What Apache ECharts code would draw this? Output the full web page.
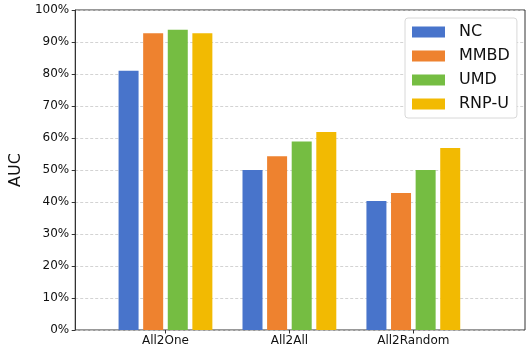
<!DOCTYPE html>
<html>
<head>
<meta charset="utf-8">
<script src="https://cdn.jsdelivr.net/npm/echarts@6/dist/echarts.min.js"></script>
<style>
  html, body { margin: 0; padding: 0; background: #fff; }
  #chart { width: 531px; height: 354px; }
</style>
</head>
<body>
<div id="chart"></div>
<script>
const categories = ['All2One', 'All2All', 'All2Random']
const seriesNames = ['NC', 'MMBD', 'UMD', 'RNP-U']
const ncValues = [81, 50, 40.3]
const mmbdValues = [92.7, 54.3, 42.8]
const umdValues = [93.8, 58.9, 50]
const rnpuValues = [92.7, 61.9, 56.9]
const yTicks = [0, 10, 20, 30, 40, 50, 60, 70, 80, 90, 100]

const colors = ['#4874CB', '#EE822F', '#75BD42', '#F2BA02']
const allValues = [ncValues, mmbdValues, umdValues, rnpuValues]
const font = 'DejaVu Sans'

const chart = echarts.init(document.getElementById('chart'), null, { renderer: 'canvas' })

// grid 0: 外框 + y 轴; grid 1: 柱子 (matplotlib 左右留白不对称)
const series = seriesNames.map((name, i) => ({
  name,
  type: 'bar',
  xAxisIndex: 1,
  yAxisIndex: 1,
  barWidth: 20,
  barGap: '23%',
  itemStyle: { color: colors[i] },
  data: allValues[i],
}))

chart.setOption({
  animation: false,
  textStyle: { fontFamily: font },
  grid: [
    { left: 65, right: 6, top: 10, bottom: 24, show: true, borderColor: '#333', borderWidth: 1 },
    { left: 103.5, right: 55.7, top: 10, bottom: 24 },
  ],
  legend: {
    data: seriesNames,
    left: 405, top: 18,
    orient: 'vertical',
    padding: [6, 7, 6, 7],
    itemWidth: 33, itemHeight: 11, itemGap: 8,
    icon: 'rect',
    backgroundColor: '#fff',
    borderColor: '#d8d8d8', borderWidth: 1, borderRadius: 3,
    textStyle: { fontFamily: font, fontSize: 16, color: '#111', lineHeight: 16, padding: [0, 0, 0, 9] },
  },
  xAxis: [
    { type: 'value', gridIndex: 0, min: 0, max: 1, show: false },
    {
      type: 'category',
      gridIndex: 1,
      data: categories,
      axisLine: { show: false },
      axisTick: { show: true, alignWithLabel: true, length: 3.5, lineStyle: { color: '#333' } },
      axisLabel: { fontFamily: font, fontSize: 12, color: '#111', margin: 5 },
    },
  ],
  yAxis: [
    {
      type: 'value',
      gridIndex: 0,
      min: 0, max: 100, interval: 10,
      name: 'AUC',
      nameLocation: 'middle',
      nameGap: 46,
      nameTextStyle: { fontFamily: font, fontSize: 16, color: '#111' },
      axisLine: { show: true, lineStyle: { color: '#333' } },
      axisTick: { show: true, length: 3.5, lineStyle: { color: '#333' } },
      axisLabel: {
        formatter: v => yTicks.includes(v) ? v + '%' : '',
        fontFamily: font, fontSize: 12, color: '#111', margin: 6,
      },
      splitLine: { show: true, lineStyle: { color: '#c8c8c8', type: [3, 2], width: 0.8 } },
    },
    { type: 'value', gridIndex: 1, min: 0, max: 100, show: false },
  ],
  series,
})
</script>
</body>
</html>
